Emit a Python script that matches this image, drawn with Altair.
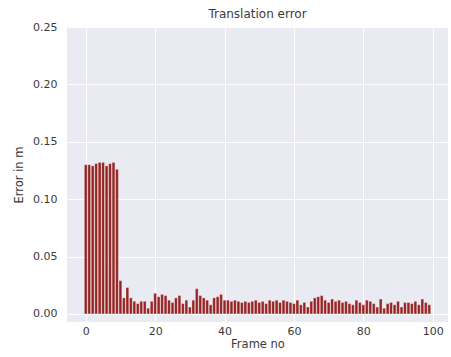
import altair as alt
import pandas as pd

# Per-frame translation error (metres), frames 0..99
frames = list(range(100))
errors = [
    0.130, 0.130, 0.129, 0.131, 0.132, 0.132, 0.129, 0.131, 0.132, 0.126,
    0.029, 0.014, 0.023, 0.014, 0.011, 0.009, 0.011, 0.011, 0.005, 0.011,
    0.018, 0.015, 0.017, 0.016, 0.012, 0.010, 0.014, 0.016, 0.009, 0.012,
    0.006, 0.012, 0.022, 0.016, 0.014, 0.012, 0.008, 0.014, 0.015, 0.017,
    0.012, 0.012, 0.011, 0.012, 0.011, 0.010, 0.011, 0.010, 0.011, 0.012,
    0.010, 0.011, 0.009, 0.012, 0.011, 0.012, 0.010, 0.012, 0.011, 0.010,
    0.009, 0.012, 0.008, 0.010, 0.006, 0.011, 0.014, 0.015, 0.016, 0.012,
    0.010, 0.013, 0.011, 0.012, 0.010, 0.011, 0.009, 0.008, 0.012, 0.010,
    0.008, 0.012, 0.011, 0.009, 0.006, 0.013, 0.005, 0.009, 0.010, 0.008,
    0.011, 0.006, 0.010, 0.010, 0.009, 0.011, 0.008, 0.013, 0.010, 0.008,
]
x_ticks = [0, 20, 40, 60, 80, 100]
y_ticks = [0.0, 0.05, 0.10, 0.15, 0.20, 0.25]

df = pd.DataFrame({"frame": frames, "error": errors})
df["left"] = df["frame"] - 0.4
df["right"] = df["frame"] + 0.4
df["zero"] = 0.0

font = "DejaVu Sans"
text_color = "#3a3a3a"

bars = alt.Chart(df).mark_bar(color="#962424", stroke="white", strokeWidth=0.3).encode(
    x=alt.X(
        "left:Q",
        scale=alt.Scale(domain=[-5.4, 104.4], nice=False, zero=False),
        axis=alt.Axis(
            values=x_ticks, format="d", title="Frame no", labelPadding=3,
            titlePadding=2,
        ),
    ),
    x2="right:Q",
    y=alt.Y(
        "error:Q",
        scale=alt.Scale(domain=[-0.007, 0.25], nice=False, zero=False),
        axis=alt.Axis(
            values=y_ticks, format=".2f", title="Error in m", labelPadding=10,
            titlePadding=8,
        ),
    ),
    y2="zero:Q",
)

chart = bars.properties(
    width=381,
    height=295,
    background="white",
    title=alt.TitleParams("Translation error", fontSize=12, font=font,
                          fontWeight="normal", color=text_color, offset=0),
    padding={"left": 67, "top": 27, "right": 3, "bottom": 35},
    autosize=alt.AutoSizeParams(type="none"),
).configure_view(
    fill="#EAEAF2", stroke=None
).configure_axis(
    domain=False, ticks=False, grid=True, gridColor="white", gridWidth=1,
    labelFont=font, labelFontSize=11, labelColor=text_color,
    titleFont=font, titleFontSize=11.5, titleColor=text_color,
    titleFontWeight="normal",
)

chart.save("out.html", embed_options={"renderer": "svg", "actions": False})
